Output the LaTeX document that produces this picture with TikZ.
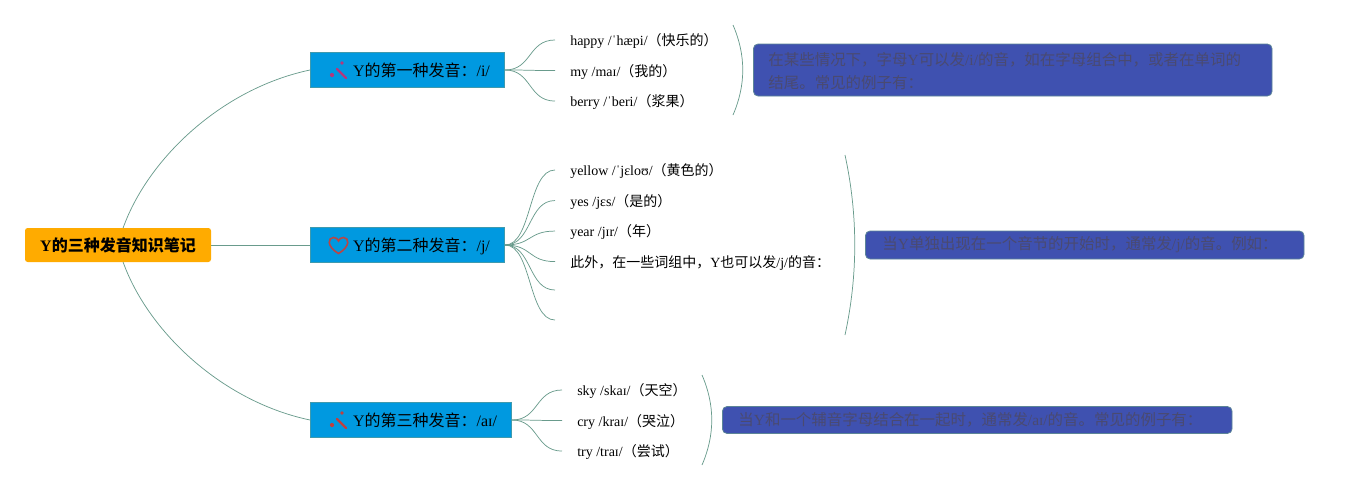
\documentclass[tikz,border=0pt]{standalone}
\usepackage{fontspec}
\setmainfont{Liberation Serif}
\newfontfamily\cjk{Noto Sans CJK SC}
\usepackage{xcolor}
\usetikzlibrary{positioning,backgrounds}
\definecolor{rootfill}{RGB}{255,171,0}
\definecolor{branchfill}{RGB}{0,153,224}
\definecolor{notefill}{RGB}{63,81,176}
\definecolor{notetext}{RGB}{74,74,112}
\definecolor{linkgreen}{RGB}{105,155,140}
\newcommand{\zh}[1]{{\cjk #1}}
\newcommand{\iconpad}{\hspace*{32pt}}
\begin{document}
\begin{tikzpicture}[
    x=0.75pt, y=-0.75pt,
    root/.style={rectangle, fill=rootfill, rounded corners=2pt, minimum width=139.5pt, minimum height=25.5pt, inner sep=0pt, font=\bfseries\fontsize{12}{14}\selectfont},
    branch/.style={rectangle, draw=linkgreen!60!branchfill, line width=0.5pt, fill=branchfill, anchor=west, minimum height=26.5pt, inner xsep=0pt, align=left, text height=12.5pt, text depth=2.5pt, font=\fontsize{12}{14}\selectfont},
    leaf/.style={rectangle, anchor=west, inner xsep=11.25pt, inner ysep=0pt, minimum height=22.5pt, text height=11.2pt, text depth=2.5pt, font=\fontsize{10.5}{12}\selectfont},
    note/.style={rectangle, draw=linkgreen!70!notefill, line width=0.6pt, fill=notefill, rounded corners=3.5pt, anchor=west, align=left, inner xsep=0pt, inner ysep=0pt, text=notetext, font=\fontsize{11.6}{17.25}\selectfont},
    link/.style={draw=linkgreen, line width=0.55pt},
    wand/.pic={
        \fill (3,-8) circle (1.9);
        \fill (-7,4) circle (2.1);
        \draw[line width=1.7pt, line cap=round] (-2,-2) -- (7,7);
    }
]
    \useasboundingbox (0,0) rectangle (1349,490);

    % Root and branches
    \node[root] (root) at (118,245) {Y\zh{的三种发音知识笔记}};
    \node[branch, text width=145.75pt] (b1) at (310,70) {\iconpad Y\zh{的第一种发音：}/i/};
    \node[branch, text width=145.75pt] (b2) at (310,245) {\iconpad Y\zh{的第二种发音：}/j/};
    \node[branch, text width=151pt] (b3) at (310,420) {\iconpad Y\zh{的第三种发音：}/aɪ/};

    % Icons
    \path (339,71) pic[fill=magenta!70!black, draw=magenta!70!black] {wand};
    \path (339,421) pic[fill=red!50!gray, draw=red!50!gray] {wand};
    \draw[draw=red!45!gray, line width=1.2pt] (338.5,253.5) .. controls (326,246) and (328,237.5) .. (333.5,237.5) .. controls (336,237.5) and (338,239) .. (338.5,241) .. controls (339,239) and (341,237.5) .. (343.5,237.5) .. controls (349,237.5) and (351,246) .. (338.5,253.5) -- cycle;

    % First group
    \node[leaf] (l11) at (555,40) {happy /ˈhæpi/\zh{（快乐的）}};
    \node[leaf, below=0pt of l11.south west, anchor=north west] (l12) {my /maɪ/\zh{（我的）}};
    \node[leaf, below=0pt of l12.south west, anchor=north west] (l13) {berry /ˈberi/\zh{（浆果）}};

    % Second group
    \node[leaf] (l21) at (555,170) {yellow /ˈjɛloʊ/\zh{（黄色的）}};
    \node[leaf, below=0pt of l21.south west, anchor=north west] (l22) {yes /jɛs/\zh{（是的）}};
    \node[leaf, below=0pt of l22.south west, anchor=north west] (l23) {year /jɪr/\zh{（年）}};
    \node[leaf, below=0pt of l23.south west, anchor=north west] (l24) {\zh{此外，在一些词组中，}Y\zh{也可以发}/j/\zh{的音：}};
    \coordinate (l25) at (555,290);
    \coordinate (l26) at (555,320);

    % Third group
    \node[leaf] (l31) at (562,390) {sky /skaɪ/\zh{（天空）}};
    \node[leaf, below=0pt of l31.south west, anchor=north west] (l32) {cry /kraɪ/\zh{（哭泣）}};
    \node[leaf, below=0pt of l32.south west, anchor=north west] (l33) {try /traɪ/\zh{（尝试）}};

    % Notes
    \node[note, text width=389pt, minimum height=39pt, text height=13pt, text depth=20pt] (n1) at (753,70) {\hspace*{11.25pt}\zh{在某些情况下，字母}Y\zh{可以发}/i/\zh{的音，如在字母组合中，或者在单词的}\\\hspace*{11.25pt}\zh{结尾。常见的例子有：}};
    \node[note, text width=329pt, minimum height=21pt] (n2) at (865,245) {\hspace*{12.75pt}\zh{当}Y\zh{单独出现在一个音节的开始时，通常发}/j/\zh{的音。例如：}};
    \node[note, text width=382.25pt, minimum height=20.25pt] (n3) at (722,420) {\hspace*{12pt}\zh{当}Y\zh{和一个辅音字母结合在一起时，通常发}/aɪ/\zh{的音。常见的例子有：}};

    % Brackets
    \coordinate (k1a) at (733,25);
    \coordinate (k1b) at (733,115);
    \coordinate (k2a) at (845,155);
    \coordinate (k2b) at (845,335);
    \coordinate (k3a) at (702,375);
    \coordinate (k3b) at (702,465);
    \draw[link] (k1a) .. controls +(13,30) and +(13,-30) .. (k1b);
    \draw[link] (k2a) .. controls +(13,60) and +(13,-60) .. (k2b);
    \draw[link] (k3a) .. controls +(13,30) and +(13,-30) .. (k3b);

    % Links
    \begin{scope}[on background layer]
        \draw[link] (root.center) .. controls (136,170) and (215,90) .. (b1.west);
        \draw[link] (root.east) -- (b2.west);
        \draw[link] (root.center) .. controls (136,320) and (215,400) .. (b3.west);
        \foreach \leafname in {l11,l12,l13}
            \draw[link] (b1.east) .. controls +(27,0) and +(-27,0) .. (\leafname.west);
        \foreach \leafname in {l21,l22,l23,l24}
            \draw[link] (b2.east) .. controls +(27,0) and +(-27,0) .. (\leafname.west);
        \foreach \leafname in {l25,l26}
            \draw[link] (b2.east) .. controls +(27,0) and +(-27,0) .. (\leafname);
        \foreach \leafname in {l31,l32,l33}
            \draw[link] (b3.east) .. controls +(27,0) and +(-27,0) .. (\leafname.west);
    \end{scope}
\end{tikzpicture}
\end{document}
